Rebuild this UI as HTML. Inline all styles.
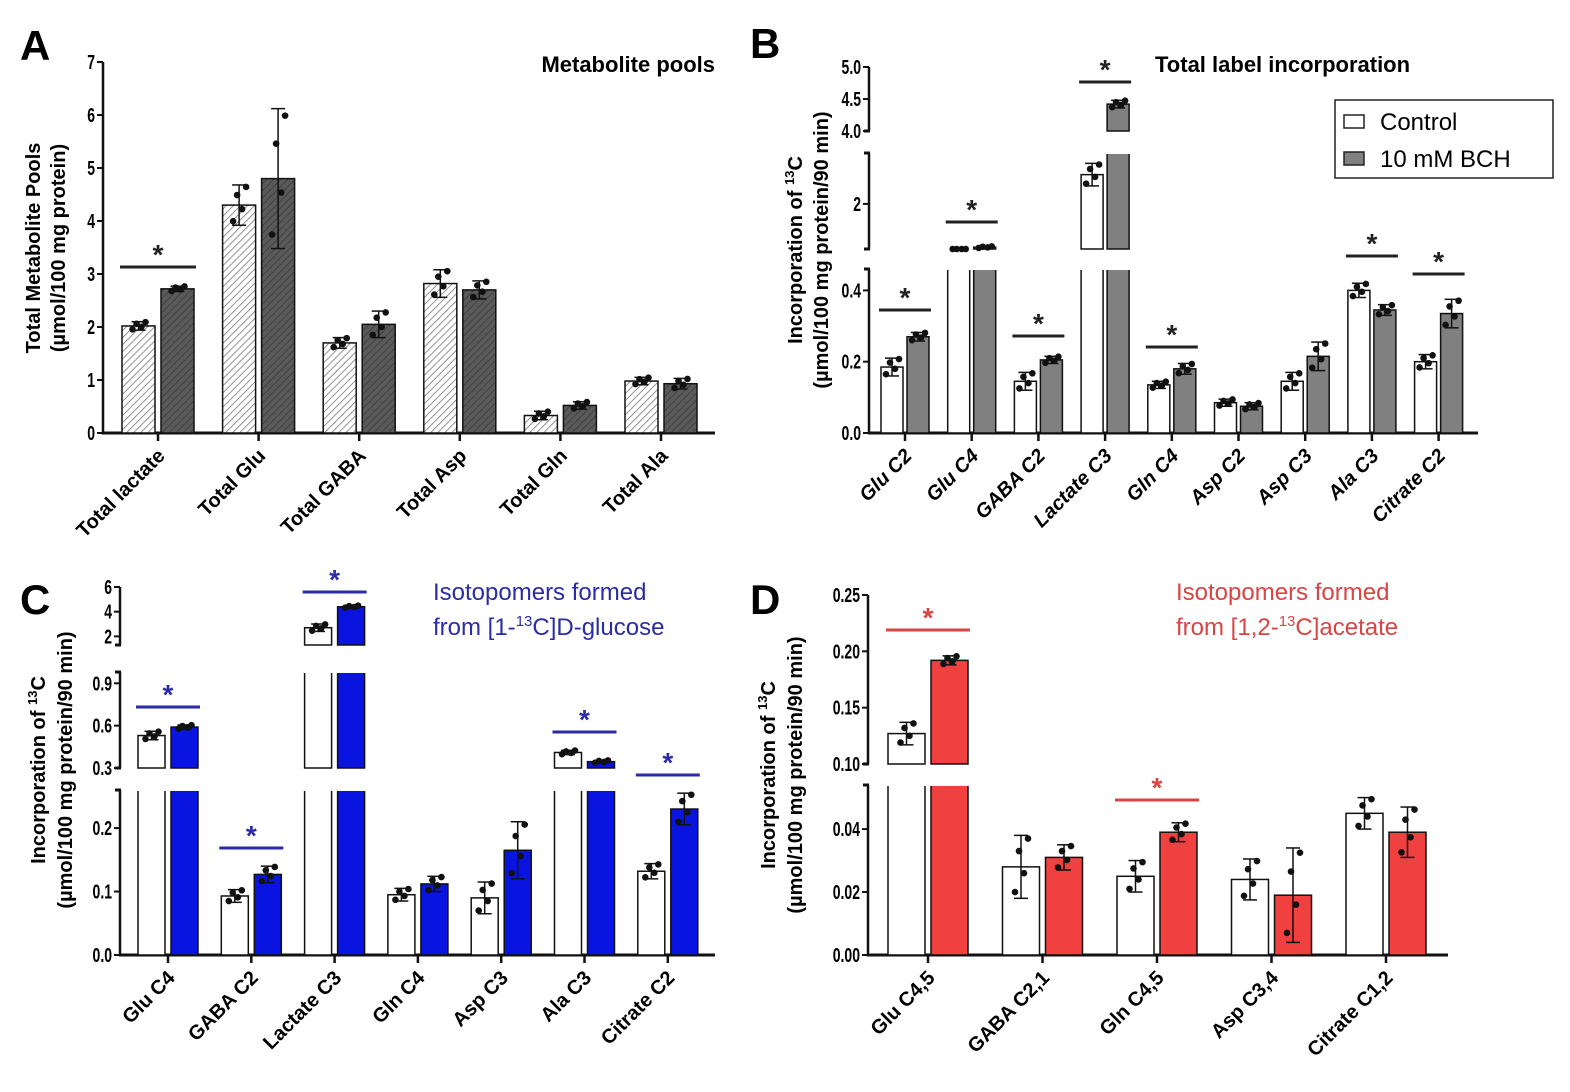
<!DOCTYPE html>
<html><head><meta charset="utf-8">
<style>
html,body{margin:0;padding:0;background:#fff;}
svg{display:block;font-family:"Liberation Sans",Arial,sans-serif;}
</style></head>
<body>
<svg id="s" width="1570" height="1092" viewBox="0 0 1570 1092" xmlns="http://www.w3.org/2000/svg">
<defs>
<pattern id="hl" patternUnits="userSpaceOnUse" width="5" height="5" patternTransform="rotate(45)">
<rect width="5" height="5" fill="#fff"/><line x1="0" y1="0" x2="0" y2="5" stroke="#777" stroke-width="1.6"/></pattern>
<pattern id="hd" patternUnits="userSpaceOnUse" width="5" height="5" patternTransform="rotate(45)">
<rect width="5" height="5" fill="#5a5a5a"/><line x1="0" y1="0" x2="0" y2="5" stroke="#3a3a3a" stroke-width="1.6"/></pattern>
</defs>
<g font-weight="bold" font-size="42">
<text x="20" y="60">A</text><text x="750" y="58">B</text><text x="20" y="614">C</text><text x="750" y="614">D</text>
</g>
<text x="715" y="72" font-size="22" font-weight="bold" text-anchor="end">Metabolite pools</text>
<text x="1155" y="72" font-size="22" font-weight="bold">Total label incorporation</text>
<text x="433" y="600" font-size="24" fill="#2b2ba6">Isotopomers formed</text>
<text x="433" y="635" font-size="24" fill="#2b2ba6">from [1-<tspan font-size="15" dy="-9">13</tspan><tspan dy="9">C]D-glucose</tspan></text>
<text x="1176" y="600" font-size="24" fill="#d94444">Isotopomers formed</text>
<text x="1176" y="635" font-size="24" fill="#d94444">from [1,2-<tspan font-size="15" dy="-9">13</tspan><tspan dy="9">C]acetate</tspan></text>
<g font-weight="bold" font-size="20" text-anchor="middle">
<text transform="translate(40,248) rotate(-90)">Total  Metabolite Pools</text>
<text transform="translate(65,248) rotate(-90)">(µmol/100 mg protein)</text>
<text transform="translate(802,250) rotate(-90)">Incorporation of <tspan font-size="13" dy="-8">13</tspan><tspan dy="8">C</tspan></text>
<text transform="translate(828,250) rotate(-90)">(µmol/100 mg protein/90 min)</text>
<text transform="translate(45,770) rotate(-90)">Incorporation of <tspan font-size="13" dy="-8">13</tspan><tspan dy="8">C</tspan></text>
<text transform="translate(72,770) rotate(-90)">(µmol/100 mg protein/90 min)</text>
<text transform="translate(775,775) rotate(-90)">Incorporation of <tspan font-size="13" dy="-8">13</tspan><tspan dy="8">C</tspan></text>
<text transform="translate(802,775) rotate(-90)">(µmol/100 mg protein/90 min)</text>
</g>
<rect x="1335" y="100" width="218" height="78" fill="#fff" stroke="#222" stroke-width="1.5"/>
<rect x="1344" y="115" width="20" height="13" fill="#fff" stroke="#222" stroke-width="1.5"/>
<rect x="1344" y="152" width="20" height="13" fill="#808080" stroke="#222" stroke-width="1.5"/>
<text x="1380" y="130" font-size="24">Control</text>
<text x="1380" y="167" font-size="24">10 mM BCH</text>
<g id="g"></g>
</svg>
<script>
var NS="http://www.w3.org/2000/svg",G=document.getElementById('g');
function el(t,a,txt){var e=document.createElementNS(NS,t);for(var k in a)e.setAttribute(k,a[k]);if(txt!=null)e.textContent=txt;G.appendChild(e);return e;}
function panel(P){
 function Y(v){for(var i=0;i<P.seg.length;i++){var s=P.seg[i];if(v<=s[1]+1e-9||i==P.seg.length-1){if(v<s[0])v=s[0];return s[2]-(v-s[0])/(s[1]-s[0])*(s[2]-s[3]);}}}
 function segOf(v){for(var i=0;i<P.seg.length;i++)if(v<=P.seg[i][1]+1e-9)return i;return P.seg.length-1;}
 P.seg.forEach(function(s){el('line',{x1:P.ax,y1:s[2]+(s===P.seg[0]?1.5:0),x2:P.ax,y2:s[3],stroke:'#111','stroke-width':2.5});
   if(s!==P.seg[0])el('line',{x1:P.ax-5,y1:s[2],x2:P.ax+1,y2:s[2],stroke:'#111','stroke-width':3});
   if(P.seg.length>1&&s!==P.seg[P.seg.length-1])el('line',{x1:P.ax-5,y1:s[3],x2:P.ax+1,y2:s[3],stroke:'#111','stroke-width':3});});
 P.ticks.forEach(function(t){var y=Y(t[0]),tx=P.ax-8;el('line',{x1:P.ax-6,y1:y,x2:P.ax,y2:y,stroke:'#111','stroke-width':2});
   el('text',{x:0,y:0,'font-size':20,'font-weight':'bold','text-anchor':'end',transform:'translate('+tx+','+(y+7)+') scale(0.7,1)'},t[1]);});
 var y0=P.seg[0][2];
 el('line',{x1:P.ax-1,y1:y0,x2:P.xend,y2:y0,stroke:'#111','stroke-width':3});
 P.groups.forEach(function(g,i){var cx=P.x0+i*P.dx;
  el('line',{x1:cx,y1:y0,x2:cx,y2:y0+8,stroke:'#111','stroke-width':2.5});
  el('text',{x:cx+8,y:y0+24,'font-size':P.lfs||20,'font-weight':'bold','font-style':P.it?'italic':'normal','text-anchor':'end',transform:'rotate(-45 '+(cx+8)+' '+(y0+24)+')'},g[0]);
  [[g[1],-1,P.fill[0],g[3]],[g[2],1,P.fill[1],g[4]]].forEach(function(b){var v=b[0],x=b[1]<0?cx-P.gap-P.bw:cx+P.gap;
   P.seg.forEach(function(s,si){if(v<=s[0]&&si>0)return;var top=Math.min(v,s[1]);var yt=Y(top);if(v>s[1])yt=s[3];var yb=s[2];
    var h=yb-yt;if(h<=0)return;
    el('rect',{x:x,y:yt,width:P.bw,height:h,fill:b[2],stroke:'#111','stroke-width':1.5});
    if(v>s[1])el('line',{x1:x-1,y1:yt,x2:x+P.bw+1,y2:yt,stroke:'#fff','stroke-width':2});
   });
   var si=segOf(v);
   var e=b[3]!=null?b[3]:(si==0?v*(P.err||0.07):v*0.025),xc=x+P.bw/2;
   var ya=Y(v+e),yb2=Y(v-e);
   if(segOf(v-e)!=si)yb2=P.seg[si][2];
   if(segOf(v+e)!=si)ya=P.seg[si][3];
   el('line',{x1:xc,y1:ya,x2:xc,y2:yb2,stroke:'#111','stroke-width':1.5});
   el('line',{x1:xc-7,y1:ya,x2:xc+7,y2:ya,stroke:'#111','stroke-width':1.5});
   el('line',{x1:xc-7,y1:yb2,x2:xc+7,y2:yb2,stroke:'#111','stroke-width':1.5});
   var yv=Y(v),off=[-0.8,0.5,-0.2,0.9],dxs=[-6,-2,3,7];
   for(var k=0;k<4;k++)el('circle',{cx:xc+dxs[k],cy:yv+(off[k]*(yb2-ya)/2)*-1,r:3.3,fill:'#111'});
  });
 });
 (P.sig||[]).forEach(function(i){var cx=P.x0+i*P.dx;var y=P.sigY[i];
  el('line',{x1:cx-P.gap-P.bw-2,y1:y,x2:cx+P.gap+P.bw+2,y2:y,stroke:P.sc||'#222','stroke-width':3});
  el('text',{x:cx,y:y-3,'font-size':28,'font-weight':'bold','text-anchor':'middle',fill:P.sc||'#222'},'*');});
}
panel({ax:103,xend:715,seg:[[0,7,433,62]],ticks:[[0,'0'],[1,'1'],[2,'2'],[3,'3'],[4,'4'],[5,'5'],[6,'6'],[7,'7']],
 x0:158,dx:100.6,bw:33,gap:3,fill:['url(#hl)','url(#hd)'],err:0.05,
 groups:[['Total lactate',2.02,2.72,0.08,0.05],['Total Glu',4.3,4.8,0.38,1.32],['Total GABA',1.7,2.05,0.1,0.25],['Total Asp',2.82,2.7,0.26,0.17],['Total Gln',0.33,0.52,0.08,0.07],['Total Ala',0.98,0.93,0.07,0.1]],
 sig:[0],sigY:{0:267}});
panel({ax:869,xend:1478,seg:[[0,0.46,433,269],[1,3.13,249,153],[4,5,131,67]],ticks:[[0,'0.0'],[0.2,'0.2'],[0.4,'0.4'],[2,'2'],[4,'4.0'],[4.5,'4.5'],[5,'5.0']],
 x0:905,dx:66.7,bw:22,gap:2,fill:['#fff','#808080'],it:true,err:0.1,
 groups:[['Glu C2',0.185,0.27,0.025,0.012],['Glu C4',0.985,1.04,0.01,0.02],['GABA C2',0.145,0.205,0.025,0.01],['Lactate C3',2.65,4.42,0.25,0.06],['Gln C4',0.135,0.18,0.01,0.015],['Asp C2',0.085,0.075,0.01,0.01],['Asp C3',0.145,0.215,0.025,0.04],['Ala C3',0.4,0.345,0.02,0.015],['Citrate C2',0.2,0.335,0.02,0.04]],
 sig:[0,1,2,3,4,7,8],sigY:{0:310,1:222,2:336,3:82,4:347,7:256,8:274}});
panel({ax:120,xend:715,seg:[[0,0.26,955,790],[0.3,0.98,768,672],[1.3,6.0,645,587]],ticks:[[0,'0.0'],[0.1,'0.1'],[0.2,'0.2'],[0.3,'0.3'],[0.6,'0.6'],[0.9,'0.9'],[2,'2'],[4,'4'],[6,'6']],
 x0:168,dx:83.3,bw:27,gap:3,fill:['#fff','#0a14e0'],err:0.1,sc:'#2b2ba6',
 groups:[['Glu C4',0.53,0.59,0.03,0.015],['GABA C2',0.093,0.127,0.01,0.013],['Lactate C3',2.7,4.4,0.3,0.1],['Gln C4',0.095,0.112,0.01,0.012],['Asp C3',0.09,0.165,0.025,0.045],['Ala C3',0.41,0.345,0.015,0.01],['Citrate C2',0.132,0.23,0.012,0.025]],
 sig:[0,1,2,5,6],sigY:{0:707,1:848,2:592,5:732,6:775}});
panel({ax:868,xend:1448,seg:[[0,0.054,955,785],[0.1,0.25,764,595]],ticks:[[0,'0.00'],[0.02,'0.02'],[0.04,'0.04'],[0.1,'0.10'],[0.15,'0.15'],[0.2,'0.20'],[0.25,'0.25']],
 x0:928,dx:114.5,bw:37,gap:3,fill:['#fff','#f04040'],err:0.12,sc:'#d94444',
 groups:[['Glu C4,5',0.127,0.192,0.01,0.004],['GABA C2,1',0.028,0.031,0.01,0.004],['Gln C4,5',0.025,0.039,0.005,0.003],['Asp C3,4',0.024,0.019,0.0065,0.015],['Citrate C1,2',0.045,0.039,0.005,0.008]],
 sig:[0,2],sigY:{0:630,2:800}});
</script>
</body></html>
